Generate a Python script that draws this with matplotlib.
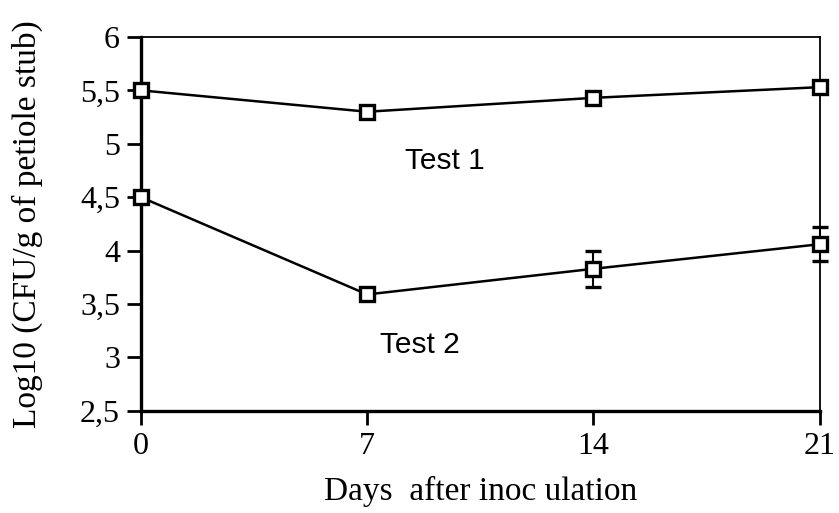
import matplotlib
matplotlib.use("Agg")
import matplotlib.pyplot as plt

days = [0, 7, 14, 21]
test1 = [5.50, 5.30, 5.43, 5.53]
test1_err = [0, 0, 0, 0]
test2 = [4.50, 3.59, 3.83, 4.06]
test2_err = [0, 0, 0.17, 0.16]

yticks = [2.5, 3, 3.5, 4, 4.5, 5, 5.5, 6]
ytick_labels = ["2,5", "3", "3,5", "4", "4,5", "5", "5,5", "6"]
xticks = [0, 7, 14, 21]

fig = plt.figure(figsize=(8.39, 5.13), dpi=100)
ax = fig.add_axes([0.168, 0.199, 0.809, 0.729])

style = dict(color="black", lw=1.8, marker="s", markersize=10, markerfacecolor="white",
             markeredgecolor="black", markeredgewidth=2.4, ecolor="black",
             elinewidth=1.5, capsize=6, capthick=2.2, clip_on=False, zorder=5)
ax.errorbar(days, test1, yerr=test1_err, **style)
ax.errorbar(days, test2, yerr=test2_err, **style)

ax.text(8.17, 4.76, "Test 1", fontsize=21.5, family="Liberation Sans")
ax.text(7.39, 3.04, "Test 2", fontsize=21.5, family="Liberation Sans")

ax.set_xlim(0, 21)
ax.set_ylim(2.5, 6)
ax.set_xticks(xticks)
ax.set_xticklabels([str(d) for d in xticks], family="Liberation Serif", fontsize=23)
ax.set_yticks(yticks)
ax.set_yticklabels(ytick_labels, family="Liberation Serif", fontsize=23)
ax.tick_params(direction="out", length=10, width=2, pad=5)

for side in ["left", "bottom"]:
    ax.spines[side].set_linewidth(2.4)
for side in ["top", "right"]:
    ax.spines[side].set_linewidth(1.3)

ax.set_xlabel("Days  after inoc ulation", family="Liberation Serif", fontsize=24, labelpad=11)
ax.set_ylabel("Log10 (CFU/g of petiole stub)", family="Liberation Serif", fontsize=24, labelpad=27)

fig.savefig("out.png", dpi=100)
